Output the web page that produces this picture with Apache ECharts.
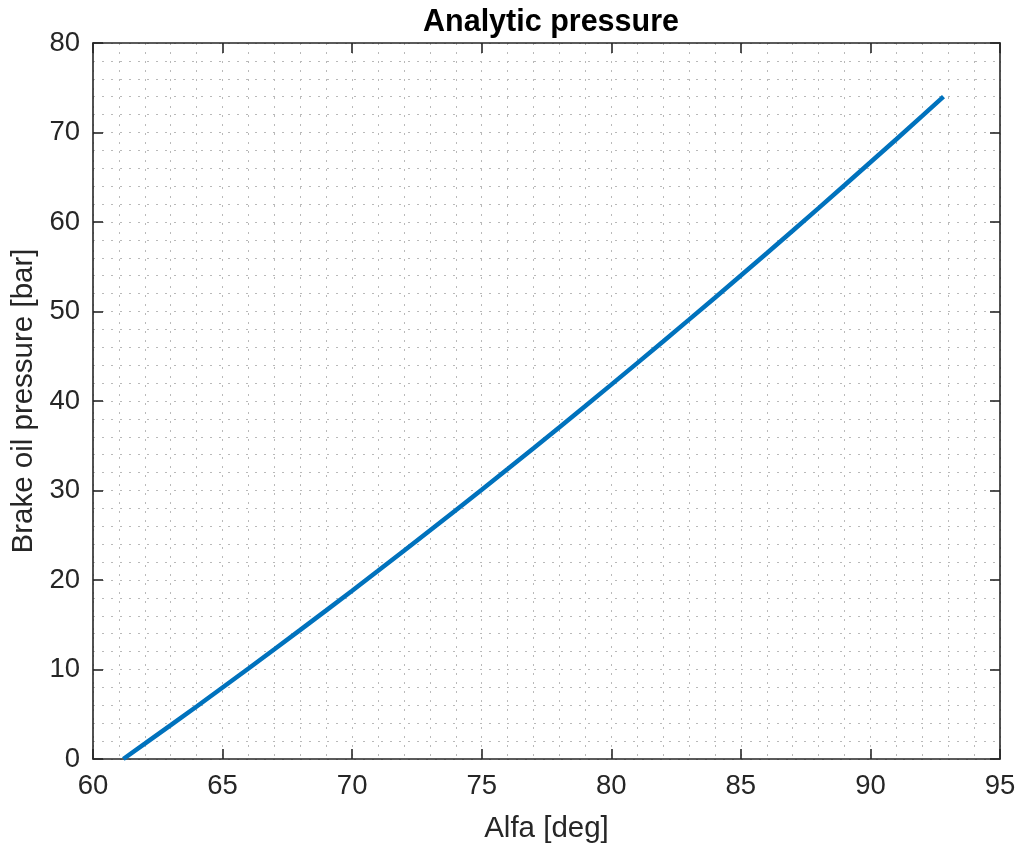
<!DOCTYPE html>
<html>
<head>
<meta charset="utf-8">
<script src="https://cdn.jsdelivr.net/npm/echarts@6/dist/echarts.min.js"></script>
<style>html,body{margin:0;padding:0;background:#fff}#c{width:1024px;height:850px}</style>
</head>
<body>
<div id="c"></div>
<script>
var titleText = 'Analytic pressure';
var xName = 'Alfa [deg]';
var yName = 'Brake oil pressure [bar]';
var alfa = [61.17, 62, 63, 64, 65, 66, 67, 68, 69, 70, 71, 72, 73, 74, 75, 76, 77, 78, 79, 80, 81, 82, 83, 84, 85, 86, 87, 88, 89, 90, 91, 92, 92.82];
var pressure = [0, 1.71, 3.78, 5.87, 7.99, 10.11, 12.26, 14.43, 16.61, 18.8, 21.03, 23.27, 25.52, 27.8, 30.09, 32.4, 34.73, 37.08, 39.44, 41.83, 44.23, 46.65, 49.09, 51.54, 54.02, 56.51, 59.02, 61.55, 64.1, 66.67, 69.25, 71.85, 74.0];
var xTicks = [60, 65, 70, 75, 80, 85, 90, 95];
var yTicks = [0, 10, 20, 30, 40, 50, 60, 70, 80];

var pts = alfa.map(function (a, i) { return [a, pressure[i]]; });
var FONT = '"Liberation Sans", Arial, Helvetica, sans-serif';
var DARK = '#262626';
var gridDot = { color: '#b9b9b9', width: 1, type: [2, 7] };

function mkAxis(pos, ticks, isMain, nameTxt) {
  var ax = {
    type: 'value',
    position: pos,
    min: ticks[0],
    max: ticks[ticks.length - 1],
    interval: ticks[1] - ticks[0],
    axisLine: { show: true, onZero: false, lineStyle: { color: DARK, width: 1.6 } },
    axisTick: { show: true, inside: true, length: 10, lineStyle: { color: DARK, width: 1.6 } },
    axisLabel: { show: isMain, color: DARK, fontSize: 27.5, fontFamily: FONT, margin: 13 },
    splitLine: { show: isMain, lineStyle: gridDot },
    minorTick: { show: false, splitNumber: 5 },
    minorSplitLine: { show: isMain, lineStyle: gridDot }
  };
  if (isMain) {
    ax.name = nameTxt;
    ax.nameLocation = 'middle';
    ax.nameTextStyle = { color: DARK, fontSize: 29.5, fontFamily: FONT };
  }
  return ax;
}

var xMain = mkAxis('bottom', xTicks, true, xName);
xMain.nameGap = 55;
var yMain = mkAxis('left', yTicks, true, yName);
yMain.nameGap = 52;

var chart = echarts.init(document.getElementById('c'), null, { renderer: 'canvas' });
chart.setOption({
  animation: false,
  backgroundColor: '#ffffff',
  title: {
    text: titleText,
    left: 546,
    textAlign: 'center',
    top: 2,
    textStyle: { color: '#000', fontSize: 30.5, fontWeight: 'bold', fontFamily: FONT }
  },
  grid: { left: 93, right: 24, top: 43, bottom: 91, containLabel: false },
  xAxis: [xMain, mkAxis('top', xTicks, false)],
  yAxis: [yMain, mkAxis('right', yTicks, false)],
  series: [{
    type: 'line',
    xAxisIndex: 0,
    yAxisIndex: 0,
    data: pts,
    showSymbol: false,
    smooth: false,
    lineStyle: { color: '#0072BD', width: 4.5 },
    itemStyle: { color: '#0072BD' }
  }]
});
</script>
</body>
</html>
